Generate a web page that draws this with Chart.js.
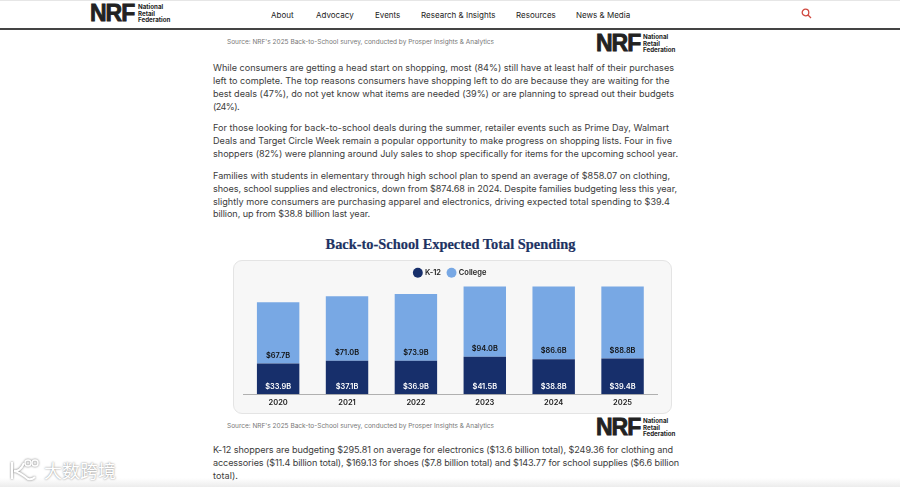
<!DOCTYPE html>
<html>
<head>
<meta charset="utf-8">
<script src="https://cdn.jsdelivr.net/npm/chart.js@4"></script>
<style>
  html, body { margin: 0; padding: 0; background: #fff; }
  body { width: 900px; height: 487px; overflow: hidden; position: relative; font-family: Inter, sans-serif; color: #333; filter: blur(.35px); }
  .abs { position: absolute; white-space: nowrap; }
  #top { position: absolute; left: 0; top: 0; width: 900px; height: 1px; background: #e6e6e6; }
  #rule { position: absolute; left: 0; top: 28px; width: 900px; height: 2px; background: #444; }
  .nav { font-size: 8px; color: #222; line-height: 10px; }
  .line { left: 213px; font-size: 9.1px; line-height: 12px; color: #3c3c3c; }
  .src { left: 227px; font-size: 6.5px; line-height: 8px; color: #777; }
  .nrf { font-family: "Liberation Sans", sans-serif; font-weight: 700; font-size: 23px; line-height: 16px; letter-spacing: -1px; color: #222; -webkit-text-stroke: .8px #222; }
  .nrf-sub { font-family: Inter, sans-serif; font-weight: 700; font-size: 6.2px; line-height: 6.5px; color: #222; white-space: pre; }
  #title { left: 213px; width: 475px; top: 235px; text-align: center; font-family: "Liberation Serif", serif; font-weight: 700; font-size: 14.4px; line-height: 18px; color: #1d3263; -webkit-text-stroke: .2px #1d3263; }
  #card { position: absolute; left: 233px; top: 260px; width: 437px; height: 152px; border: 1px solid #e4e4e4; border-radius: 9px; background: #f7f7f7; }
  #chart { position: absolute; left: 233px; top: 260px; }
  #fade { position: absolute; left: 0; top: 478px; width: 900px; height: 9px; background: linear-gradient(#fff, #ececec); }
  #mark { left: 44px; top: 459px; font-family: "Noto Sans CJK SC", sans-serif; font-size: 18px; line-height: 22px; color: #fff; text-shadow: 0 0 2px #777; }
</style>
</head>
<body>
<div id="top"></div>
<div id="rule"></div>
<div id="fade"></div>
<div id="page"></div>
<div id="title" class="abs">Back-to-School Expected Total Spending</div>
<div id="card"></div>
<canvas id="chart" width="439" height="153" style="width:439px;height:153px"></canvas>
<svg class="abs" style="left:801px;top:8px" width="11" height="11" viewBox="0 0 11 11" fill="none" stroke="#d0483f" stroke-width="1.3"><circle cx="4.5" cy="4.5" r="3.3"/><line x1="7" y1="7" x2="10" y2="10"/></svg>
<svg class="abs" style="left:8px;top:458px;filter:drop-shadow(0 0 1px #777)" width="34" height="24" viewBox="0 0 34 24" fill="none" stroke="#fff" stroke-width="2"><path d="M4 4v17M16 5C13 12 10 13 6 13C11 14 15 17 20 21C23 22 25 21 27 19"/><circle cx="20" cy="5" r="3" stroke-width="1.4"/><circle cx="27" cy="5" r="3" stroke-width="1.4"/></svg>
<div id="mark" class="abs">大数跨境</div>

<script>
// datos de la gráfica
const years   = ['2020', '2021', '2022', '2023', '2024', '2025'];
const k12     = [33.9, 37.1, 36.9, 41.5, 38.8, 39.4];
const college = [67.7, 71.0, 73.9, 94.0, 86.6, 88.8];

// textos de la página: [texto, y, x donde termina la línea]
const navItems = [['About', 271], ['Advocacy', 316], ['Events', 375], ['Research & Insights', 421], ['Resources', 516], ['News & Media', 576]];
const bodyLines = [
  ['While consumers are getting a head start on shopping, most (84%) still have at least half of their purchases', 62, 674],
  ['left to complete. The top reasons consumers have shopping left to do are because they are waiting for the', 75, 669.5],
  ['best deals (47%), do not yet know what items are needed (39%) or are planning to spread out their budgets', 88, 674],
  ['(24%).', 101, 239],
  ['For those looking for back-to-school deals during the summer, retailer events such as Prime Day, Walmart', 122, 669],
  ['Deals and Target Circle Week remain a popular opportunity to make progress on shopping lists. Four in five', 135, 672],
  ['shoppers (82%) were planning around July sales to shop specifically for items for the upcoming school year.', 148, 678],
  ['Families with students in elementary through high school plan to spend an average of $858.07 on clothing,', 169.5, 670],
  ['shoes, school supplies and electronics, down from $874.68 in 2024. Despite families budgeting less this year,', 182.5, 677],
  ['slightly more consumers are purchasing apparel and electronics, driving expected total spending to $39.4', 195.5, 670],
  ['billion, up from $38.8 billion last year.', 208, 370],
  ['K-12 shoppers are budgeting $295.81 on average for electronics ($13.6 billion total), $249.36 for clothing and', 444, 673],
  ['accessories ($11.4 billion total), $169.13 for shoes ($7.8 billion total) and $143.77 for school supplies ($6.6 billion', 457, 679],
  ['total).', 470, 238],
];
const sourceText = "Source: NRF's 2025 Back-to-School survey, conducted by Prosper Insights & Analytics";

function addText(cls, text, x, y) {
  const el = document.createElement('div');
  el.className = 'abs ' + cls;
  el.textContent = text;
  if (x !== null) el.style.left = x + 'px';
  el.style.top = y + 'px';
  document.getElementById('page').appendChild(el);
  return el;
}

function addLogo(x, y, subX) {
  addText('nrf', 'NRF', x, y);
  addText('nrf-sub', 'National\nRetail\nFederation', subX, y - 1);
}

navItems.forEach(n => addText('nav', n[0], n[1], 10));

// ajusto el espaciado de cada línea para que termine donde en el original
bodyLines.forEach(l => {
  const el = addText('line', l[0], null, l[1]);
  const w = el.getBoundingClientRect().width;
  el.style.letterSpacing = ((l[2] - 213 - w) / l[0].length) + 'px';
});

addText('src', sourceText, null, 38);
addText('src', sourceText, null, 422);
addLogo(90, 5, 138);
addLogo(596, 35, 643);
addLogo(596, 419, 643);

// etiquetas dentro de cada barra, pegadas a la base del segmento
const barLabels = {
  id: 'barLabels',
  afterDatasetsDraw(c) {
    const ctx = c.ctx;
    ctx.save();
    ctx.font = '600 7.4px Inter';
    ctx.textAlign = 'center';
    ctx.textBaseline = 'middle';
    c.data.datasets.forEach((ds, i) => {
      ctx.fillStyle = i === 0 ? '#fff' : '#111';
      c.getDatasetMeta(i).data.forEach((bar, j) => {
        ctx.fillText('$' + ds.data[j].toFixed(1) + 'B', bar.x, bar.base - 8);
      });
    });
    ctx.restore();
  },
};

new Chart(document.getElementById('chart'), {
  type: 'bar',
  data: {
    labels: years,
    datasets: [
      { label: 'K-12', data: k12, backgroundColor: '#172f6b' },
      { label: 'College', data: college, backgroundColor: '#78a8e4' },
    ],
  },
  options: {
    responsive: false,
    animation: false,
    devicePixelRatio: 1,
    layout: { padding: { left: 10.7, right: 15, top: 2, bottom: 0 } },
    datasets: { bar: { barPercentage: 0.616, categoryPercentage: 1 } },
    plugins: {
      tooltip: { enabled: false },
      legend: {
        position: 'top',
        labels: {
          usePointStyle: true,
          pointStyle: 'circle',
          boxWidth: 7,
          boxHeight: 7,
          padding: 7,
          color: '#222',
          font: { family: 'Inter', size: 7.5, weight: '600' },
        },
      },
    },
    scales: {
      x: {
        stacked: true,
        afterFit: s => { s.height = 18.7; },
        grid: { display: false, drawTicks: false },
        border: { color: '#b0b0b0', width: 1 },
        ticks: { color: '#222', padding: 4, maxRotation: 0, font: { family: 'Inter', size: 7.5, weight: '600' } },
      },
      // el original corta las barras altas: el eje termina por debajo de los totales de 2023-2025
      y: { stacked: true, display: false, min: 0, max: 119 },
    },
  },
  plugins: [barLabels],
});
</script>
</body>
</html>
